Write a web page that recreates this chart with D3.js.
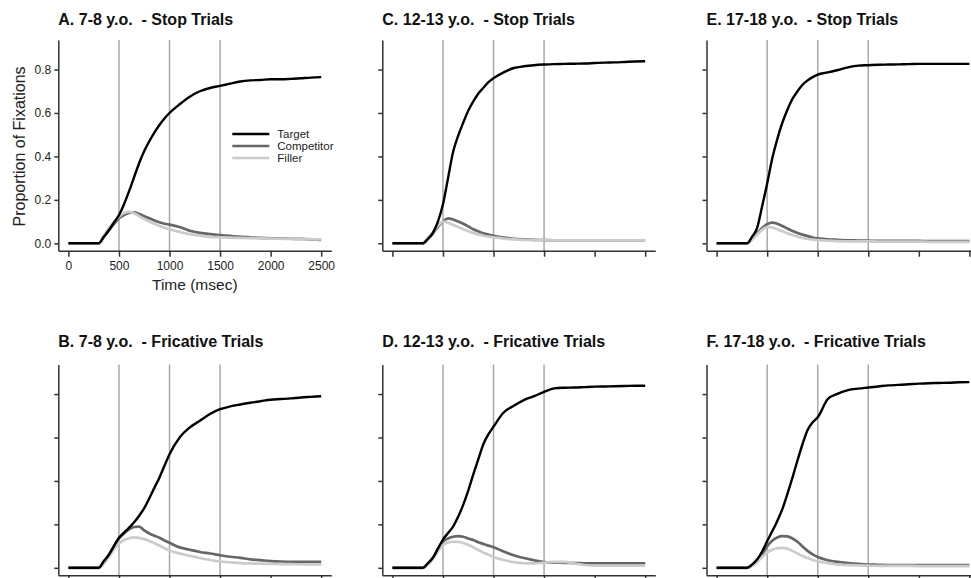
<!DOCTYPE html>
<html>
<head>
<meta charset="utf-8">
<script src="https://cdn.jsdelivr.net/npm/d3@7"></script>
<style>
  body { margin: 0; background: #fff; }
  svg { display: block; font-family: "Liberation Sans", Arial, sans-serif; }
</style>
</head>
<body>
<svg id="chart" width="971" height="578"></svg>
<script>
// time axis (msec) shared by every series
const timeMs = [0, 100, 200, 300, 350, 400, 450, 500, 550, 600, 650, 700, 750, 800, 850, 900, 950, 1000,
  1100, 1200, 1300, 1400, 1500, 1600, 1700, 1800, 1900, 2000, 2100, 2200, 2300, 2400, 2500];

const seriesNames = ["Target", "Competitor", "Filler"];
const panelTitles = ["A. 7-8 y.o.  - Stop Trials", "C. 12-13 y.o.  - Stop Trials", "E. 17-18 y.o.  - Stop Trials",
  "B. 7-8 y.o.  - Fricative Trials", "D. 12-13 y.o.  - Fricative Trials", "F. 17-18 y.o.  - Fricative Trials"];
const xTicks = [0, 500, 1000, 1500, 2000, 2500];
const yTicks = [0, 0.2, 0.4, 0.6, 0.8];
const refLines = [500, 1000, 1500];

// A. 7-8 stop
const targetA = [0, 0, 0, 0, 0.03, 0.06, 0.095, 0.13, 0.18, 0.24, 0.305, 0.37, 0.425, 0.47, 0.51, 0.545, 0.575, 0.6,
  0.64, 0.675, 0.7, 0.715, 0.725, 0.735, 0.745, 0.75, 0.752, 0.755, 0.755, 0.757, 0.76, 0.763, 0.765];
const competitorA = [0, 0, 0, 0, 0.03, 0.06, 0.088, 0.115, 0.13, 0.14, 0.142, 0.135, 0.125, 0.115, 0.105, 0.097, 0.09, 0.086,
  0.075, 0.058, 0.048, 0.042, 0.038, 0.034, 0.03, 0.028, 0.025, 0.023, 0.022, 0.021, 0.02, 0.018, 0.016];
const fillerA = [0, 0, 0, 0, 0.035, 0.07, 0.098, 0.122, 0.14, 0.145, 0.138, 0.125, 0.112, 0.1, 0.09, 0.08, 0.072, 0.065,
  0.052, 0.042, 0.035, 0.03, 0.028, 0.026, 0.025, 0.024, 0.023, 0.022, 0.021, 0.02, 0.02, 0.019, 0.018];

// C. 12-13 stop
const targetC = [0, 0, 0, 0, 0.02, 0.048, 0.1, 0.18, 0.3, 0.42, 0.495, 0.555, 0.61, 0.653, 0.69, 0.716, 0.742, 0.76,
  0.787, 0.807, 0.815, 0.82, 0.823, 0.825, 0.826, 0.827, 0.828, 0.83, 0.832, 0.833, 0.835, 0.837, 0.838];
const competitorC = [0, 0, 0, 0, 0.02, 0.045, 0.075, 0.1, 0.115, 0.11, 0.1, 0.09, 0.078, 0.065, 0.055, 0.046, 0.04, 0.035,
  0.026, 0.021, 0.018, 0.016, 0.015, 0.014, 0.014, 0.014, 0.014, 0.014, 0.014, 0.014, 0.014, 0.014, 0.014];
const fillerC = [0, 0, 0, 0, 0.025, 0.05, 0.08, 0.1, 0.095, 0.085, 0.075, 0.065, 0.056, 0.048, 0.041, 0.035, 0.031, 0.028,
  0.022, 0.018, 0.016, 0.015, 0.014, 0.014, 0.014, 0.014, 0.014, 0.014, 0.014, 0.014, 0.014, 0.014, 0.014];

// E. 17-18 stop
const targetE = [0, 0, 0, 0, 0.03, 0.07, 0.17, 0.275, 0.39, 0.48, 0.555, 0.615, 0.665, 0.7, 0.73, 0.75, 0.765, 0.777,
  0.787, 0.798, 0.81, 0.818, 0.82, 0.822, 0.823, 0.824, 0.825, 0.826, 0.826, 0.826, 0.826, 0.826, 0.826];
const competitorE = [0, 0, 0, 0, 0.02, 0.045, 0.07, 0.088, 0.095, 0.09, 0.08, 0.068, 0.057, 0.047, 0.04, 0.033, 0.027, 0.023,
  0.018, 0.016, 0.014, 0.013, 0.012, 0.011, 0.011, 0.011, 0.011, 0.011, 0.01, 0.01, 0.01, 0.01, 0.01];
const fillerE = [0, 0, 0, 0, 0.018, 0.04, 0.062, 0.076, 0.073, 0.065, 0.055, 0.046, 0.038, 0.031, 0.025, 0.02, 0.017, 0.015,
  0.012, 0.01, 0.009, 0.009, 0.009, 0.008, 0.008, 0.008, 0.008, 0.008, 0.007, 0.007, 0.007, 0.007, 0.007];

// B. 7-8 fricative
const targetB = [0, 0, 0, 0, 0.03, 0.06, 0.1, 0.138, 0.162, 0.185, 0.21, 0.24, 0.275, 0.32, 0.368, 0.415, 0.47, 0.523,
  0.6, 0.646, 0.677, 0.708, 0.73, 0.743, 0.752, 0.76, 0.767, 0.774, 0.777, 0.78, 0.784, 0.787, 0.79];
const competitorB = [0, 0, 0, 0, 0.03, 0.06, 0.1, 0.135, 0.158, 0.177, 0.188, 0.19, 0.172, 0.158, 0.148, 0.138, 0.126, 0.115,
  0.094, 0.083, 0.073, 0.066, 0.058, 0.051, 0.046, 0.039, 0.035, 0.031, 0.029, 0.028, 0.028, 0.028, 0.028];
const fillerB = [0, 0, 0, 0, 0.02, 0.05, 0.085, 0.112, 0.128, 0.136, 0.14, 0.138, 0.132, 0.124, 0.113, 0.103, 0.09, 0.08,
  0.066, 0.055, 0.045, 0.036, 0.029, 0.025, 0.022, 0.02, 0.019, 0.018, 0.017, 0.017, 0.016, 0.016, 0.016];

// D. 12-13 fricative
const targetD = [0, 0, 0, 0, 0.02, 0.046, 0.088, 0.13, 0.16, 0.19, 0.235, 0.29, 0.355, 0.43, 0.5, 0.57, 0.615, 0.65,
  0.715, 0.746, 0.772, 0.79, 0.81, 0.826, 0.829, 0.83, 0.832, 0.834, 0.835, 0.836, 0.837, 0.838, 0.838];
const competitorD = [0, 0, 0, 0, 0.02, 0.046, 0.085, 0.12, 0.135, 0.143, 0.146, 0.143, 0.135, 0.128, 0.118, 0.11, 0.102, 0.095,
  0.075, 0.058, 0.045, 0.035, 0.026, 0.024, 0.023, 0.022, 0.021, 0.02, 0.02, 0.02, 0.02, 0.02, 0.02];
const fillerD = [0, 0, 0, 0, 0.015, 0.04, 0.075, 0.105, 0.117, 0.12, 0.119, 0.114, 0.105, 0.095, 0.082, 0.07, 0.06, 0.05,
  0.036, 0.026, 0.021, 0.02, 0.024, 0.027, 0.027, 0.02, 0.013, 0.01, 0.01, 0.01, 0.01, 0.01, 0.01];

// F. 17-18 fricative
const targetF = [0, 0, 0, 0, 0.015, 0.038, 0.075, 0.123, 0.168, 0.216, 0.27, 0.34, 0.415, 0.495, 0.57, 0.635, 0.67, 0.693,
  0.777, 0.802, 0.818, 0.825, 0.83, 0.835, 0.84, 0.842, 0.845, 0.848, 0.85, 0.851, 0.852, 0.854, 0.855];
const competitorF = [0, 0, 0, 0, 0.01, 0.03, 0.06, 0.1, 0.125, 0.14, 0.146, 0.145, 0.135, 0.12, 0.098, 0.078, 0.062, 0.05,
  0.035, 0.027, 0.022, 0.018, 0.015, 0.014, 0.013, 0.013, 0.013, 0.013, 0.013, 0.013, 0.013, 0.013, 0.013];
const fillerF = [0, 0, 0, 0, 0.008, 0.025, 0.05, 0.07, 0.083, 0.09, 0.092, 0.088, 0.078, 0.066, 0.054, 0.045, 0.036, 0.03,
  0.021, 0.015, 0.012, 0.011, 0.01, 0.009, 0.009, 0.009, 0.009, 0.008, 0.008, 0.008, 0.008, 0.008, 0.008];

// panel order: top row A C E, bottom row B D F
const panelSeries = [
  [targetA, competitorA, fillerA],
  [targetC, competitorC, fillerC],
  [targetE, competitorE, fillerE],
  [targetB, competitorB, fillerB],
  [targetD, competitorD, fillerD],
  [targetF, competitorF, fillerF]
];

const colX = [58.3, 382.3, 706.5];
const rowY = [40, 364.5];
const titleY = [25, 347];
const plotW = 273;
const plotH = 210.7;

const lineColor = {"Target": "#000", "Competitor": "#666", "Filler": "#cbcbcb"};
const lineWidth = {"Target": 2.4, "Competitor": 2.7, "Filler": 2.7};
const drawOrder = ["Competitor", "Filler", "Target"];

const x = d3.scaleLinear().domain([-100, 2600]).range([0, plotW]);
const y = d3.scaleLinear().domain([-0.034, 0.936]).range([plotH, 0]);

const svg = d3.select("#chart");

const line = d3.line()
  .x(d => x(d[0]))
  .y(d => y(d[1]))
  .curve(d3.curveMonotoneX);

panelTitles.forEach((title, i) => {
  const col = i % 3;
  const row = Math.floor(i / 3);
  const first = i === 0;

  svg.append("text")
    .attr("x", colX[col])
    .attr("y", titleY[row])
    .attr("font-size", 16)
    .attr("font-weight", "bold")
    .attr("fill", "#111")
    .style("white-space", "pre")
    .text(title);

  const g = svg.append("g").attr("transform", `translate(${colX[col]},${rowY[row]})`);

  g.selectAll("line.ref").data(refLines).enter().append("line")
    .attr("class", "ref")
    .attr("x1", d => x(d)).attr("x2", d => x(d))
    .attr("y1", 0).attr("y2", plotH)
    .attr("stroke", "#a8a8a8")
    .attr("stroke-width", 1.5);

  const yAxis = g.append("g")
    .call(d3.axisLeft(y).tickValues(yTicks).tickSize(4).tickSizeOuter(0).tickPadding(3)
      .tickFormat(first ? d3.format(".1f") : ""));
  const xAxis = g.append("g")
    .attr("transform", `translate(0,${plotH})`)
    .call(d3.axisBottom(x).tickValues(xTicks).tickSize(6).tickSizeOuter(0).tickPadding(5)
      .tickFormat(first ? d3.format("d") : ""));

  [yAxis, xAxis].forEach(a => {
    a.selectAll("path, line").attr("stroke", "#333").attr("stroke-width", 1.5);
    a.selectAll("text").attr("font-size", 12).attr("fill", "#222")
      .style("font-family", "\"Liberation Sans\", Arial, sans-serif");
  });

  drawOrder.forEach(name => {
    const vals = panelSeries[i][seriesNames.indexOf(name)];
    g.append("path")
      .datum(timeMs.map((t, k) => [t, vals[k]]))
      .attr("fill", "none")
      .attr("stroke", lineColor[name])
      .attr("stroke-width", lineWidth[name])
      .attr("stroke-linejoin", "round")
      .attr("d", line);
  });

  if (first) {
    // legend
    const leg = g.append("g").attr("transform", "translate(174,94)");
    seriesNames.forEach((name, k) => {
      leg.append("line")
        .attr("x1", 0).attr("x2", 37)
        .attr("y1", k * 12).attr("y2", k * 12)
        .attr("stroke", lineColor[name])
        .attr("stroke-width", lineWidth[name]);
      leg.append("text")
        .attr("x", 45).attr("y", k * 12 + 4)
        .attr("font-size", 11.5)
        .attr("fill", "#222")
        .text(name);
    });

    g.append("text")
      .attr("x", x(1250))
      .attr("y", plotH + 39)
      .attr("text-anchor", "middle")
      .attr("font-size", 15.5)
      .attr("fill", "#222")
      .text("Time (msec)");

    g.append("text")
      .attr("transform", `translate(${-33},${y(0.4) - 10}) rotate(-90)`)
      .attr("text-anchor", "middle")
      .attr("font-size", 16)
      .attr("fill", "#222")
      .text("Proportion of Fixations");
  }
});
</script>
</body>
</html>
